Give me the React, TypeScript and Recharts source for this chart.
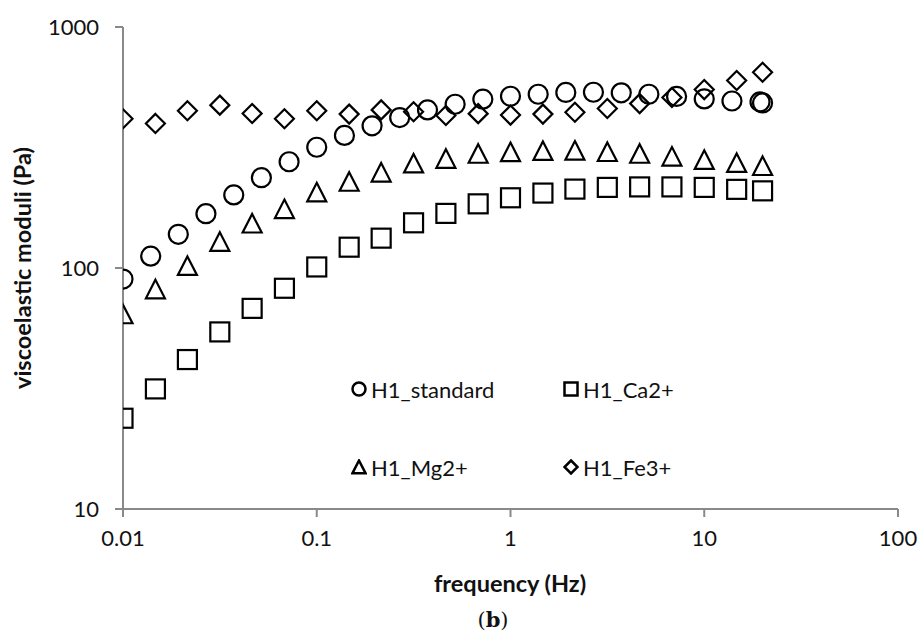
import { ScatterChart, Scatter, XAxis, YAxis } from 'recharts'

// frequencies (Hz) – standard series was measured at 7 pts/decade, the others at 6
const FREQ_STD = [0.01, 0.0139, 0.0193, 0.0268, 0.0373, 0.0518, 0.072, 0.1, 0.139, 0.193, 0.268, 0.373, 0.518, 0.72, 1, 1.39, 1.93, 2.68, 3.73, 5.18, 7.2, 10, 13.9, 19.4, 20]
const FREQ = [0.01, 0.0147, 0.0215, 0.0316, 0.0464, 0.0681, 0.1, 0.147, 0.215, 0.316, 0.464, 0.681, 1, 1.47, 2.15, 3.16, 4.64, 6.81, 10, 14.7, 20]

// viscoelastic moduli (Pa)
const H1_STANDARD = [90, 112, 138, 168, 201, 237, 276, 317, 355, 389, 421, 453, 478, 502, 516, 526, 535, 536, 533, 526, 515, 503, 493, 489, 484]
const H1_CA = [23.8, 31.5, 41.7, 54.3, 68, 82.4, 101, 122, 133, 154, 168.5, 184.6, 195.6, 204.6, 212.5, 216, 217, 217, 216, 212, 209]
const H1_MG = [64.3, 81.6, 102, 128.5, 153, 175.6, 206, 228, 249, 271.6, 284, 298, 302.6, 306, 307, 303, 298, 290, 281, 273, 265]
const H1_FE = [416, 398, 449, 474, 437.5, 416, 449, 435, 453, 445, 429.5, 437, 431, 435, 443, 459, 481, 509.6, 550, 600, 649]

const X_TICKS = [0.01, 0.1, 1, 10, 100]
const Y_TICKS = [10, 100, 1000]

const toPoints = (fs: number[], vs: number[]) => fs.map((f, i) => ({ f, v: vs[i] }))

const FONT = 'Lato, "Open Sans", sans-serif'
const AXIS_GREY = '#898989'
const SW = 2.2

type Kind = 'circle' | 'square' | 'triangle' | 'diamond'

function Marker({ kind, cx, cy, s, sw }: { kind: Kind; cx: number; cy: number; s: number; sw: number }) {
    const h = s / 2
    const common = { fill: 'none', stroke: '#000', strokeWidth: sw }
    if (kind === 'circle') return <circle cx={cx} cy={cy} r={h} {...common} />
    if (kind === 'square') return <rect x={cx - h} y={cy - h} width={s} height={s} {...common} />
    if (kind === 'triangle')
        return <polygon points={`${cx},${cy - h} ${cx + h},${cy + h * 0.95} ${cx - h},${cy + h * 0.95}`} {...common} strokeLinejoin="miter" />
    return <polygon points={`${cx},${cy - h} ${cx + h},${cy} ${cx},${cy + h} ${cx - h},${cy}`} {...common} />
}

const SERIES: { name: string; kind: Kind; data: { f: number; v: number }[] }[] = [
    { name: 'H1_standard', kind: 'circle', data: toPoints(FREQ_STD, H1_STANDARD) },
    { name: 'H1_Ca2+', kind: 'square', data: toPoints(FREQ, H1_CA) },
    { name: 'H1_Mg2+', kind: 'triangle', data: toPoints(FREQ, H1_MG) },
    { name: 'H1_Fe3+', kind: 'diamond', data: toPoints(FREQ, H1_FE) },
]

function LegendBox() {
    // 2 x 2 grid inside the plot, same order as the series
    return (
        <div style={{ position: 'absolute', left: 351, top: 377, width: 340, height: 110, fontFamily: FONT, fontSize: 22, color: '#111' }}>
            {SERIES.map((s, i) => {
                const col = i % 2
                const row = Math.floor(i / 2)
                return (
                    <div
                        key={s.name}
                        style={{ position: 'absolute', left: col * 212, top: row * 78, display: 'flex', alignItems: 'center', height: 24 }}
                    >
                        <svg width={16} height={16} style={{ marginRight: 4 }}>
                            <Marker kind={s.kind} cx={8} cy={8} s={13} sw={2.5} />
                        </svg>
                        <span>{s.name}</span>
                    </div>
                )
            })}
        </div>
    )
}

export default function App() {
    return (
        <div style={{ position: 'absolute', left: 0, top: 0, width: 920, height: 635, background: '#fff', overflow: 'hidden' }}>
            <ScatterChart width={920} height={635} margin={{ top: 27, right: 22, bottom: 86, left: 0 }}>
                <XAxis
                    type="number"
                    dataKey="f"
                    scale="log"
                    domain={[0.01, 100]}
                    ticks={X_TICKS}
                    allowDataOverflow
                    height={40}
                    stroke={AXIS_GREY}
                    strokeWidth={2}
                    tickSize={8}
                    tickMargin={13}
                    tick={{ fill: '#111', fontSize: 22, fontFamily: FONT }}
                    tickFormatter={(v: number) => String(v)}
                />
                <YAxis
                    type="number"
                    dataKey="v"
                    scale="log"
                    domain={[10, 1000]}
                    ticks={Y_TICKS}
                    allowDataOverflow
                    width={123}
                    stroke={AXIS_GREY}
                    strokeWidth={2}
                    tickSize={8}
                    tickMargin={16}
                    tick={{ fill: '#111', fontSize: 22, fontFamily: FONT }}
                />
                {SERIES.map((s) => (
                    <Scatter
                        key={s.name}
                        name={s.name}
                        data={s.data}
                        isAnimationActive={false}
                        shape={(p: any) => <Marker kind={s.kind} cx={p.cx} cy={p.cy} s={19} sw={SW} />}
                    />
                ))}
            </ScatterChart>

            <LegendBox />

            {/* axis titles and panel label */}
            <div
                style={{
                    position: 'absolute', left: 22, top: 268, transform: 'translate(-50%, -50%) rotate(-90deg)',
                    whiteSpace: 'nowrap', fontFamily: FONT, fontWeight: 700, fontSize: 23.5, color: '#111',
                }}
            >
                viscoelastic moduli (Pa)
            </div>
            <div
                style={{
                    position: 'absolute', left: 510, top: 583, transform: 'translate(-50%, -50%)',
                    whiteSpace: 'nowrap', fontFamily: FONT, fontWeight: 700, fontSize: 23.5, color: '#111',
                }}
            >
                frequency (Hz)
            </div>
            <div
                style={{
                    position: 'absolute', left: 493, top: 620, transform: 'translate(-50%, -50%)',
                    whiteSpace: 'nowrap', fontFamily: '"DejaVu Serif", serif', fontSize: 21, lineHeight: 1, color: '#111',
                }}
            >
                (<b>b</b>)
            </div>
        </div>
    )
}
